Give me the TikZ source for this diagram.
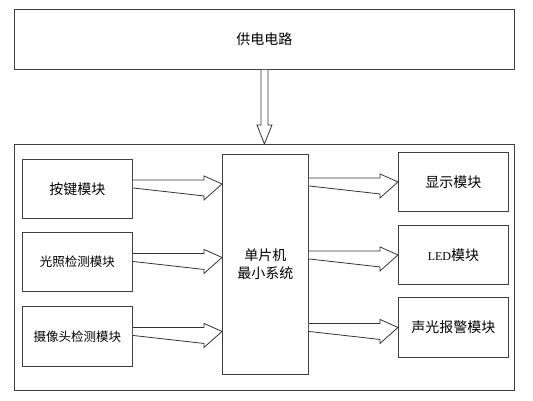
\documentclass[tikz,border=0pt]{standalone}
\usepackage{fontspec}
\setmainfont{Liberation Serif}
\newfontfamily\cjk{Noto Sans CJK SC}
\usetikzlibrary{calc,positioning}

\tikzset{
  box/.style={draw=black!75, line width=0.9pt, anchor=north west, inner sep=0pt,
    font=\cjk\fontsize{14}{18}\selectfont},
  small/.style={font=\cjk\fontsize{12.5}{15}\selectfont},
  hollow/.style={draw=black!80, line width=0.8pt, fill=white, line join=miter}
}
% hollow block arrows: start, tip
\newcommand{\rarrow}[2]{\draw[hollow] ($(#1)+(0,-4)$) -- ($(#2)+(-18,-4)$) -- ++(0,-4) -- (#2)
  -- ++(-18,16) -- ++(0,-4) -- ($(#1)+(0,4)$);}
\newcommand{\darrow}[2]{\draw[hollow] ($(#1)+(-3.5,0)$) -- ($(#2)+(-3.5,-19)$) -- ++(-4,0) -- (#2)
  -- ++(7.5,-19) -- ++(-4,0) -- ($(#1)+(3.5,0)$);}

\begin{document}
\begin{tikzpicture}[x=1pt, y=-1pt]
	\useasboundingbox (0,0) rectangle (533,401);
	\node[box, minimum width=500pt, minimum height=60pt] (power) at (14,9) {供电电路};
	\node[box, minimum width=500pt, minimum height=246pt] (board) at (14,144) {};
	% inputs
	\node[box, minimum width=110pt, minimum height=59pt] (key) at (22,159) {按键模块};
	\node[box, small, minimum width=110pt, minimum height=59pt] (light) at (22,232) {光照检测模块};
	\node[box, small, minimum width=110pt, minimum height=60pt] (camera) at (22,306) {摄像头检测模块};
	% controller
	\node[box, align=center, minimum width=86pt, minimum height=220pt] (mcu) at (222,154) {单片机\\最小系统};
	% outputs
	\node[box, minimum width=110pt, minimum height=59pt] (disp) at (398,152) {显示模块};
	\node[box, minimum width=110pt, minimum height=59pt] (led) at (398,225) {{\rmfamily\fontsize{12}{15}\selectfont LED}模块};
	\node[box, minimum width=110pt, minimum height=60pt] (alarm) at (398,297) {声光报警模块};

	\coordinate (ka) at ([yshift=5pt]key.east);
	\coordinate (la) at ([yshift=4.5pt]light.east);
	\coordinate (ca) at ([yshift=5pt]camera.east);
	\coordinate (da) at (mcu.east |- disp.west);
	\coordinate (ea) at (mcu.east |- led.west);
	\coordinate (aa) at (mcu.east |- alarm.west);

	\darrow{power.south}{board.north}
	\rarrow{ka}{mcu.west |- ka}
	\rarrow{la}{mcu.west |- la}
	\rarrow{ca}{mcu.west |- ca}
	\rarrow{da}{disp.west}
	\rarrow{ea}{led.west}
	\rarrow{aa}{alarm.west}
\end{tikzpicture}
\end{document}
